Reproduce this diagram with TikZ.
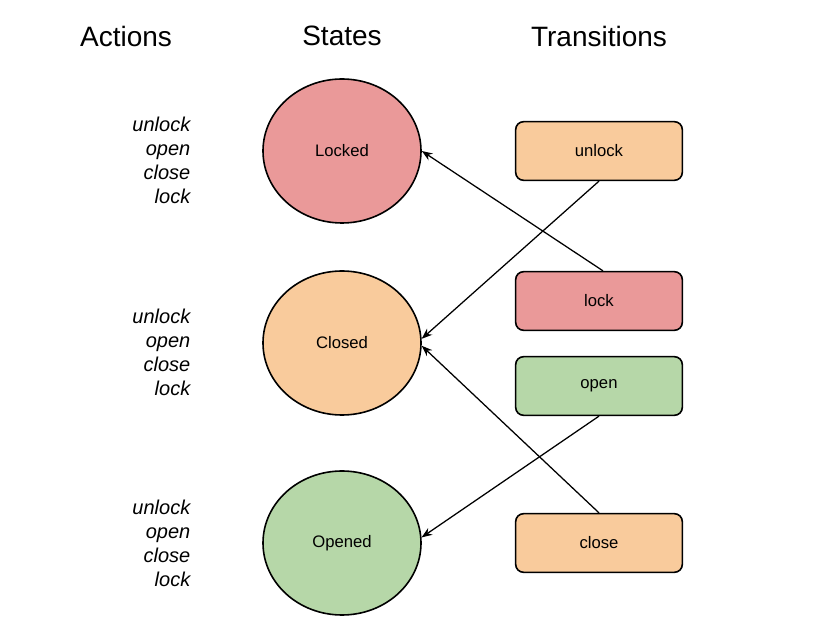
\documentclass[tikz,border=0pt]{standalone}
\usepackage{fontspec}
\setmainfont{Liberation Sans}
\usetikzlibrary{shapes.geometric,arrows.meta}

\definecolor{redfill}{HTML}{EA9999}
\definecolor{orangefill}{HTML}{F9CB9C}
\definecolor{greenfill}{HTML}{B6D7A8}

\tikzset{
  state/.style={ellipse,draw,line width=1.2pt,minimum width=118.5pt,minimum height=108pt,
    font=\fontsize{12.5}{15}\selectfont},
  trans/.style={rectangle,rounded corners=6pt,draw,line width=1.2pt,minimum width=125pt,
    minimum height=44pt,font=\fontsize{12.5}{15}\selectfont},
  heading/.style={font=\fontsize{21}{25}\selectfont},
  acts/.style={align=right,anchor=east,font=\fontsize{15}{18}\selectfont\itshape},
  go/.style={-{Stealth[length=8pt,width=6pt]},line width=0.95pt}
}

\begin{document}
\begin{tikzpicture}[x=0.75pt,y=-0.75pt]
\useasboundingbox (0,0) rectangle (840,630);

% column headings
\node[heading] (hact) at (126,36) {Actions};
\node[heading] (hstate) at (342,36) {States};
\node[heading] (htrans) at (599,36) {Transitions};

% actions per state
\foreach \g/\y in {1/160,2/352,3/543}
  \node[acts] (act\g) at (195,\y) {unlock\\open\\close\\lock};

% states
\node[state,fill=redfill] (locked) at (342,151) {Locked};
\node[state,fill=orangefill] (closed) at (342,343) {Closed};
\node[state,fill=greenfill] (opened) at (342,543) {Opened};

% transitions
\node[trans,fill=orangefill] (unlock) at (599,151) {unlock};
\node[trans,fill=redfill] (lock) at (599,301) {lock};
\node[trans,fill=greenfill] (open) at (599,386) {open};
\node[trans,fill=orangefill] (close) at (599,543) {close};

\draw[go] (unlock.south) -- (closed.3);
\draw[go] ([xshift=3pt]lock.north) -- (locked.east);
\draw[go] (open.south) -- (opened.4);
\draw[go] (close.north) -- (closed.-2);
\end{tikzpicture}
\end{document}
